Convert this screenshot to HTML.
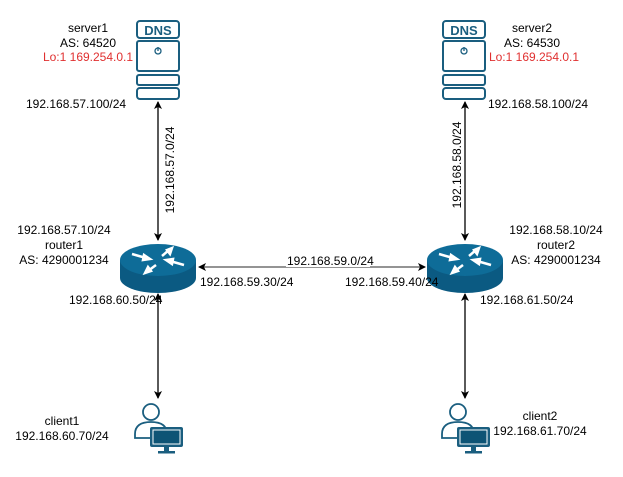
<!DOCTYPE html>
<html><head><style>
body{margin:0;background:#fff;width:623px;height:472px;overflow:hidden}
svg text{font-family:"Liberation Sans",sans-serif;font-size:12px;fill:#000}
</style></head><body>
<svg width="623" height="472" viewBox="0 0 623 472" xmlns="http://www.w3.org/2000/svg">
<defs>
<marker id="a" markerWidth="8" markerHeight="8" refX="7" refY="4" orient="auto-start-reverse" markerUnits="userSpaceOnUse"><path d="M0,0 L8,4 L0,8 L2,4z" fill="#000"/></marker>
<g id="srv">
<rect x="1" y="1" width="42" height="17" rx="3" fill="#fff" stroke="#1a5e7f" stroke-width="2"/>
<text x="22" y="15" text-anchor="middle" style="font-size:13px;font-weight:bold;fill:#1a5e7f">DNS</text>
<rect x="1" y="21" width="42" height="30" rx="2" fill="#fff" stroke="#1a5e7f" stroke-width="2"/>
<circle cx="22" cy="31" r="3" fill="none" stroke="#1a5e7f" stroke-width="1.3"/>
<line x1="22" y1="27" x2="22" y2="31" stroke="#1a5e7f" stroke-width="1.3"/>
<rect x="1" y="55" width="42" height="10" rx="2" fill="#fff" stroke="#1a5e7f" stroke-width="2"/>
<rect x="1" y="68" width="42" height="11" rx="3" fill="#fff" stroke="#1a5e7f" stroke-width="2"/>
</g>
<g id="rtr">
<path d="M0,18 L0,36 A38,15 0 0 0 76,36 L76,18z" fill="#0b5a82"/>
<ellipse cx="38" cy="18" rx="38" ry="16" fill="#0e6c98"/>
<g stroke="#fff" stroke-width="2.5" fill="#fff">
<path d="M12,12 L26,16"/><path d="M30,17 l-6,-4 -1,5z"/>
<path d="M64,23 L50,19"/><path d="M46,18 l6,4 1,-5z"/>
<path d="M36,23 L28,29"/><path d="M25,31 l3,-6 3,4z"/>
<path d="M42,14 L49,8"/><path d="M52,6 l-2,6 -3,-4z"/>
</g>
</g>
<g id="cli">
<circle cx="18" cy="12" r="8" fill="#fff" stroke="#1a5e7f" stroke-width="1.8"/>
<path d="M2,38 L2,34 Q2,22 18,22 Q34,22 34,34 L34,38z" fill="#fff" stroke="#1a5e7f" stroke-width="1.8"/>
<rect x="17" y="27" width="33" height="20" rx="2" fill="#1a5e7f"/>
<rect x="20" y="30" width="27" height="14" fill="#0e5475" stroke="#fff" stroke-width="1"/>
<rect x="31" y="47" width="5" height="4" fill="#1a5e7f"/>
<rect x="25" y="51" width="17" height="2.5" fill="#1a5e7f"/>
</g>
</defs>
<use href="#srv" x="136" y="20"/>
<use href="#srv" x="442" y="20"/>
<use href="#rtr" x="120" y="242"/>
<use href="#rtr" x="427" y="242"/>
<use href="#cli" x="133" y="400"/>
<use href="#cli" x="440" y="400"/>
<g stroke="#000" stroke-width="1.3">
<line x1="158" y1="102" x2="158" y2="240" marker-start="url(#a)" marker-end="url(#a)"/>
<line x1="465" y1="102" x2="465" y2="240" marker-start="url(#a)" marker-end="url(#a)"/>
<line x1="158" y1="294" x2="158" y2="398" marker-start="url(#a)" marker-end="url(#a)"/>
<line x1="465" y1="294" x2="465" y2="398" marker-start="url(#a)" marker-end="url(#a)"/>
<line x1="199" y1="267" x2="425" y2="267" stroke="#555" marker-start="url(#a)" marker-end="url(#a)"/>
</g>
<text x="88" y="32" text-anchor="middle">server1</text>
<text x="88" y="47" text-anchor="middle">AS: 64520</text>
<text x="88" y="61" text-anchor="middle" style="fill:#e03030">Lo:1 169.254.0.1</text>
<text x="26" y="108">192.168.57.100/24</text>
<text x="532" y="32" text-anchor="middle">server2</text>
<text x="532" y="47" text-anchor="middle">AS: 64530</text>
<text x="534" y="61" text-anchor="middle" style="fill:#e03030">Lo:1 169.254.0.1</text>
<text x="488" y="108">192.168.58.100/24</text>
<text transform="translate(174,170) rotate(-90)" text-anchor="middle">192.168.57.0/24</text>
<text transform="translate(461,165) rotate(-90)" text-anchor="middle">192.168.58.0/24</text>
<text x="64" y="234" text-anchor="middle">192.168.57.10/24</text>
<text x="64" y="249" text-anchor="middle">router1</text>
<text x="64" y="264" text-anchor="middle">AS: 4290001234</text>
<text x="556" y="234" text-anchor="middle">192.168.58.10/24</text>
<text x="556" y="249" text-anchor="middle">router2</text>
<text x="556" y="264" text-anchor="middle">AS: 4290001234</text>
<rect x="286" y="255" width="84" height="12" fill="#fff"/>
<text x="287" y="265">192.168.59.0/24</text>
<text x="200" y="286">192.168.59.30/24</text>
<text x="345" y="286">192.168.59.40/24</text>
<text x="69" y="304">192.168.60.50/24</text>
<text x="480" y="304">192.168.61.50/24</text>
<text x="62" y="425" text-anchor="middle">client1</text>
<text x="62" y="440" text-anchor="middle">192.168.60.70/24</text>
<text x="540" y="420" text-anchor="middle">client2</text>
<text x="540" y="435" text-anchor="middle">192.168.61.70/24</text>
</svg>
</body></html>
